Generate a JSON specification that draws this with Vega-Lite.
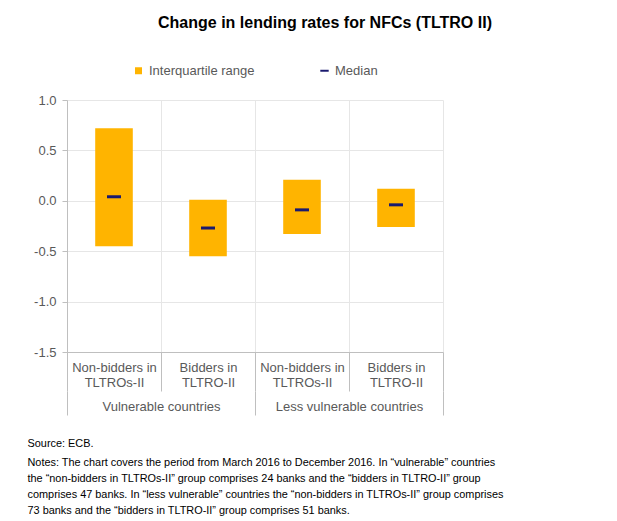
{
  "$schema": "https://vega.github.io/schema/vega-lite/v6.json",
  "autosize": "none",
  "width": 376,
  "height": 252,
  "padding": {"left": 67, "top": 100, "right": 174, "bottom": 169},
  "background": "white",
  "title": {
    "text": "Change in lending rates for NFCs (TLTRO II)",
    "anchor": "middle",
    "frame": "group",
    "dx": 70,
    "dy": -29,
    "font": "Liberation Sans",
    "fontSize": 16,
    "fontWeight": "bold",
    "color": "#000000"
  },
  "config": {
    "view": {"stroke": null},
    "locale": {"number": {"decimal": ".", "thousands": ",", "grouping": [3], "currency": ["", ""], "minus": "-"}},
    "axis": {"labelFont": "Liberation Sans", "titleFont": "Liberation Sans"},
    "legend": {"labelFont": "Liberation Sans"}
  },
  "data": {
    "values": [
      {"group": "Vulnerable countries", "cat": "Vulnerable countries|Non-bidders in|TLTROs-II", "q1": -0.45, "q3": 0.72, "median": 0.04},
      {"group": "Vulnerable countries", "cat": "Vulnerable countries|Bidders in|TLTRO-II", "q1": -0.55, "q3": 0.01, "median": -0.27},
      {"group": "Less vulnerable countries", "cat": "Less vulnerable countries|Non-bidders in|TLTROs-II", "q1": -0.33, "q3": 0.21, "median": -0.09},
      {"group": "Less vulnerable countries", "cat": "Less vulnerable countries|Bidders in|TLTRO-II", "q1": -0.26, "q3": 0.12, "median": -0.04}
    ]
  },
  "layer": [
    {
      "layer": [
        {
          "mark": {"type": "bar", "width": {"band": 0.4}},
          "encoding": {
            "x": {
              "field": "cat", "type": "nominal", "sort": null,
              "scale": {"paddingInner": 0, "paddingOuter": 0},
              "axis": {
                "title": null, "orient": "bottom", "labelAngle": 0,
                "labelExpr": "slice(split(datum.label, '|'), 1)",
                "labelFontSize": 13, "labelColor": "#595959", "labelLineHeight": 15,
                "labelBaseline": "top", "labelPadding": -30,
                "domainColor": "#bfbfbf", "tickColor": "#bfbfbf", "tickBand": "extent", "tickSize": 39,
                "grid": true, "gridColor": "#e6e6e6"
              }
            },
            "y": {
              "field": "q1", "type": "quantitative",
              "scale": {"domain": [-1.5, 1], "nice": false, "zero": false},
              "axis": {
                "values": [-1.5, -1, -0.5, 0, 0.5, 1], "format": ".1f",
                "labelFontSize": 13, "labelColor": "#595959", "labelPadding": 6,
                "domainColor": "#bfbfbf", "tickColor": "#bfbfbf", "tickSize": 5,
                "grid": true, "gridColor": "#e6e6e6",
                "title": "Source: ECB.", "titleAngle": 0, "titleX": -40, "titleY": 343,
                "titleAlign": "left", "titleBaseline": "middle", "titleFontSize": 10.9,
                "titleFontWeight": "normal", "titleColor": "#000000"
              }
            },
            "y2": {"field": "q3"},
            "color": {
              "datum": "Interquartile range", "type": "nominal",
              "scale": {"domain": ["Interquartile range", "Median"], "range": ["#FFB400", "#1a1a6e"]},
              "legend": {
                "title": null, "orient": "none", "legendX": 65, "legendY": -36,
                "direction": "horizontal", "columnPadding": 63,
                "labelFontSize": 13, "labelColor": "#595959", "labelOffset": 4,
                "symbolSize": 49, "symbolType": "square", "symbolStrokeWidth": 0,
                "encode": {
                  "symbols": {
                    "update": {
                      "shape": {"signal": "datum.value === 'Median' ? 'M-1.2,-0.28H1.2V0.28H-1.2Z' : 'square'"},
                      "fill": {"signal": "scale('color', datum.value)"},
                      "strokeWidth": {"value": 0}
                    }
                  }
                }
              }
            }
          }
        },
        {
          "mark": {"type": "tick", "size": 14, "thickness": 3, "opacity": 1},
          "encoding": {
            "x": {"field": "cat", "type": "nominal", "sort": null},
            "y": {"field": "median", "type": "quantitative"},
            "color": {"datum": "Median", "type": "nominal"}
          }
        }
      ]
    },
    {
      "mark": {"type": "bar", "opacity": 0},
      "encoding": {
        "x": {
          "field": "group", "type": "nominal", "sort": null,
          "scale": {"paddingInner": 0, "paddingOuter": 0},
          "axis": {
            "orient": "bottom", "offset": 39, "labelAngle": 0, "domain": false,
            "labelFontSize": 13, "labelColor": "#595959", "labelBaseline": "top", "labelPadding": -15,
            "tickColor": "#bfbfbf", "tickBand": "extent", "tickSize": 24, "grid": false,
            "title": [
              "Notes: The chart covers the period from March 2016 to December 2016. In “vulnerable” countries",
              "the “non-bidders in TLTROs-II” group comprises 24 banks and the “bidders in TLTRO-II” group",
              "comprises 47 banks. In “less vulnerable” countries the “non-bidders in TLTROs-II” group comprises",
              "73 banks and the “bidders in TLTRO-II” group comprises 51 banks."
            ],
            "titleX": -40, "titleY": 65, "titleAlign": "left", "titleBaseline": "top",
            "titleFontSize": 10.9, "titleFontWeight": "normal", "titleColor": "#000000", "titleLineHeight": 16
          }
        },
        "y": {"field": "q1", "type": "quantitative"},
        "y2": {"field": "q3"}
      }
    }
  ],
  "resolve": {"scale": {"x": "independent"}, "axis": {"x": "independent"}}
}
